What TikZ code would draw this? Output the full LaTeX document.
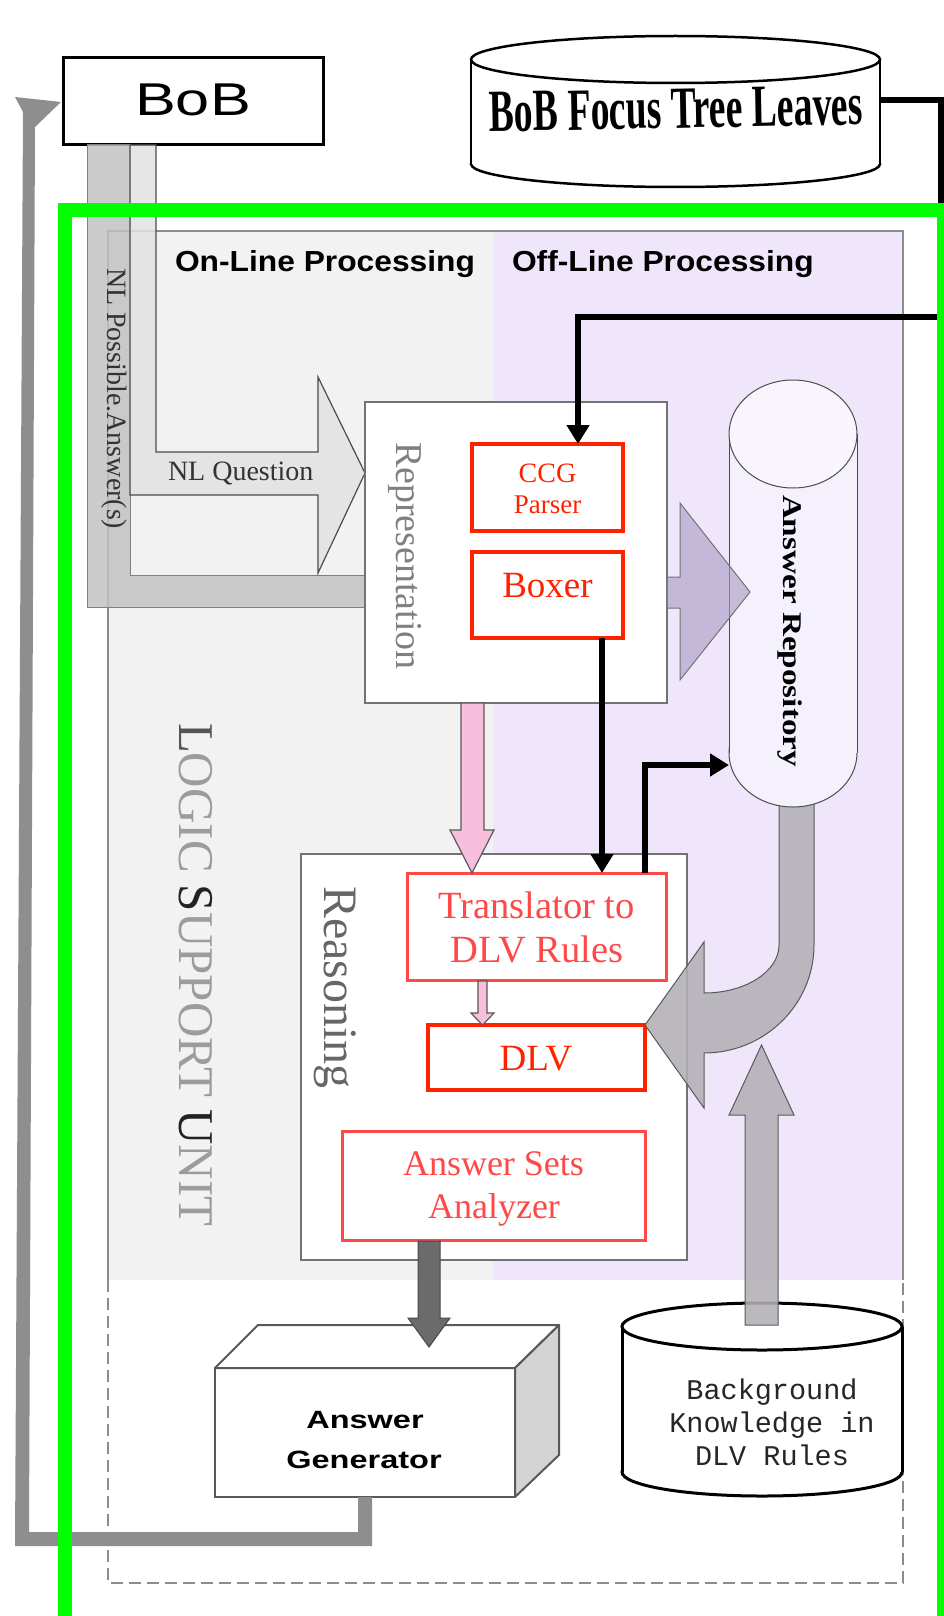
\documentclass[tikz,border=0pt]{standalone}
\usepackage{fontspec}
\setmainfont{Liberation Serif}
\newfontfamily\hvf{Liberation Sans}
\newfontfamily\courf{Liberation Mono}
\usetikzlibrary{arrows.meta}
\definecolor{onlinebg}{HTML}{F2F2F2}
\definecolor{offlinebg}{HTML}{F0E6FC}
\definecolor{lgreen}{HTML}{00FF00}
\definecolor{redA}{HTML}{FF2200}
\definecolor{redB}{HTML}{FF4848}
\definecolor{pinkA}{HTML}{F7BEDD}
\definecolor{arfill}{HTML}{F5F1FC}
\definecolor{bandA}{HTML}{C2C2C2}
\definecolor{bandB}{HTML}{E2E2E2}
\definecolor{grarrow}{HTML}{B2B0B6}
\definecolor{purarrow}{HTML}{A89AC0}
\definecolor{retgrey}{HTML}{8E8E8E}
\definecolor{lsudark}{HTML}{222222}
\definecolor{lsumid}{HTML}{555555}
\definecolor{lsulight}{HTML}{9C9C9C}
\newcommand{\fsz}[1]{\fontsize{#1}{#1}\selectfont}
\tikzset{
  txt/.style={inner sep=0pt, outer sep=0pt},
  redthick/.style={draw=redA, line width=4.5pt, fill=white, inner sep=0pt, outer sep=0pt},
  redthin/.style={draw=redB, line width=3pt, fill=white, inner sep=0pt, outer sep=0pt},
  greybox/.style={draw=black!55, line width=2pt, fill=white, inner sep=0pt, outer sep=0pt},
  blk/.style={line width=5.5pt, -{Triangle[length=19pt,width=22pt]}},
  barrow/.style={draw=black!65, line width=1.2pt},
}
\begin{document}
\begin{tikzpicture}[x=1pt,y=-1pt]
\useasboundingbox (0,0) rectangle (944,1616);
\clip (0,0) rectangle (944,1616);
\fill[white] (0,0) rectangle (944,1616);

% ---------- processing panels ----------
\fill[onlinebg] (108,231) rectangle (493,1280);
\fill[offlinebg] (493,231) rectangle (903,1280);
\draw[black!45, line width=2pt] (108,1280) -- (108,231) -- (903,231) -- (903,1280);
\draw[black!45, line width=2pt, dash pattern=on 12pt off 6pt] (108,1280) -- (108,1583) -- (903,1583) -- (903,1280);

\node[txt, anchor=base west] (onT) at (175,271) {\scalebox{1.095}[1]{\hvf\bfseries\fsz{29}On-Line Processing}};
\node[txt, anchor=base west] (offT) at (512,271) {\scalebox{1.095}[1]{\hvf\bfseries\fsz{29}Off-Line Processing}};

% ---------- BoB ----------
\node[draw=black, line width=3pt, fill=white, inner sep=0pt, outer sep=0pt,
      minimum width=260pt, minimum height=87pt, anchor=north west] (bob) at (63,58) {};
\node[txt, anchor=base] (bobT) at (193,116) {\scalebox{1.33}[1]{\hvf\fsz{46}BoB}};

% ---------- NL arrows ----------
\filldraw[fill=bandA, fill opacity=0.85, draw=black!50, line width=1pt]
  (87,145) -- (87,607) -- (365,607) -- (365,575) -- (130,575) -- (130,145) -- cycle;
\filldraw[fill=bandB, fill opacity=0.85, draw=black!70, line width=1.2pt]
  (130,145) -- (130,495) -- (318,495) -- (318,573) -- (365,473) -- (318,377) -- (318,452) -- (156,452) -- (156,145) -- cycle;
\node[txt, anchor=base west, text=black!80] (nlqT) at (168,480) {\fsz{28}NL Question};
\node[txt, anchor=base west, rotate=-90, text=black!80] (nlpT) at (107,268) {\fsz{28}NL Possible.Answer(s)};

% ---------- Representation ----------
\node[greybox, minimum width=302pt, minimum height=301pt, anchor=north west] (rep) at (365,402) {};
\node[txt, anchor=base west, rotate=-90, text=black!50] (repT) at (396,442) {\fsz{38}Representation};
\node[redthick, minimum width=151pt, minimum height=87pt, anchor=north west] (ccg) at (472,444) {};
\node[txt, anchor=base, text=redA] (ccgT1) at (547.5,482) {\fsz{28}CCG};
\node[txt, anchor=base, text=redA] (ccgT2) at (547.5,513) {\fsz{27}Parser};
\node[redthick, minimum width=151pt, minimum height=86pt, anchor=north west] (boxer) at (472,552) {};
\node[txt, anchor=base, text=redA] (boxT) at (547.5,597) {\fsz{37}Boxer};

% ---------- Logic support unit label ----------
\node[txt, anchor=base west, rotate=-90] (lsuT) at (179,723)
  {\scalebox{0.98}[1]{\fsz{50}\textcolor{lsumid}{L}\textcolor{lsulight}{OGIC} \textcolor{lsudark}{S}\textcolor{lsulight}{UPPORT} \textcolor{lsudark}{U}\textcolor{lsulight}{NIT}}};

% ---------- Reasoning ----------
\node[greybox, minimum width=386pt, minimum height=406pt, anchor=north west] (rea) at (301,854) {};
\node[txt, anchor=base west, rotate=-90, text=black!60] (reaT) at (324,886) {\fsz{48}Reasoning};
\node[redthin, minimum width=259pt, minimum height=107pt, anchor=north west] (tr) at (407,873) {};
\node[txt, anchor=base, text=redB] (trT1) at (536.5,918) {\fsz{38.5}Translator to};
\node[txt, anchor=base, text=redB] (trT2) at (537,962) {\fsz{38.5}DLV Rules};
\node[redthick, minimum width=217pt, minimum height=65pt, anchor=north west] (dlv) at (428,1025) {};
\node[txt, anchor=base, text=redA] (dlvT) at (536,1070) {\fsz{37}DLV};
\node[redthin, minimum width=303pt, minimum height=109pt, anchor=north west] (asa) at (342,1131) {};
\node[txt, anchor=base, text=redB] (asaT1) at (493.5,1175) {\fsz{36}Answer Sets};
\node[txt, anchor=base, text=redB] (asaT2) at (494,1218) {\fsz{36}Analyzer};

% ---------- pink arrows ----------
\filldraw[fill=pinkA, barrow] (461,703) -- (461,830) -- (450,830) -- (472,873) -- (494,830) -- (484,830) -- (484,703) -- cycle;
\filldraw[fill=pinkA, barrow] (478,981) -- (478,1013) -- (471,1013) -- (482.5,1025) -- (494,1013) -- (487,1013) -- (487,981) -- cycle;

% ---------- curved grey arrow (repository -> DLV) ----------
\filldraw[fill=grarrow, fill opacity=0.88, draw=black!65, line width=1pt]
  (779,800) -- (779,945) .. controls (779,971.5) and (745.4,993) .. (704,993)
  -- (704,942) -- (645,1025) -- (704,1108) -- (704,1053)
  .. controls (764.7,1053) and (814,1004.6) .. (814,945) -- (814,800) -- cycle;

% ---------- Answer repository cylinder ----------
\filldraw[fill=arfill, draw=black!70, line width=1pt] (793,753) ellipse [x radius=64, y radius=54];
\fill[arfill] (729,434) rectangle (857,753);
\draw[black!70, line width=1pt] (729,434) -- (729,753) (857,434) -- (857,753);
\filldraw[fill=arfill!70!white, draw=black!70, line width=1pt] (793,434) ellipse [x radius=64, y radius=54];
\coordinate (arL) at (729,765);
\node[txt, anchor=base west, rotate=-90] (arT) at (783,495) {\scalebox{1.23}[1]{\bfseries\fsz{27}Answer Repository}};

% ---------- Representation -> repository ----------
\filldraw[fill=purarrow, fill opacity=0.6, draw=black!55, line width=1pt]
  (667,577) -- (680,577) -- (680,503) -- (750,592) -- (680,680) -- (680,608) -- (667,608) -- cycle;

% ---------- BoB Focus Tree Leaves cylinder ----------
\filldraw[fill=white, draw=black, line width=2.5pt] (675.5,164) ellipse [x radius=204.5, y radius=23];
\fill[white] (471,59.5) rectangle (880,164);
\draw[black, line width=2.5pt] (471,59.5) -- (471,164) (880,59.5) -- (880,164);
\filldraw[fill=white, draw=black, line width=2.5pt] (675.5,59.5) ellipse [x radius=204.5, y radius=23.5];
\coordinate (bftR) at (880,100);
\node[txt, anchor=base, rotate=1.1] (bftT) at (676.5,128) {\scalebox{0.66}[1.05]{\bfseries\fsz{57}BoB Focus Tree Leaves}};

% ---------- Background knowledge cylinder ----------
\filldraw[fill=white, draw=black, line width=3pt] (762,1472) ellipse [x radius=140, y radius=24];
\fill[white] (622,1326.5) rectangle (902,1472);
\draw[black, line width=3pt] (622,1326.5) -- (622,1472) (902,1326.5) -- (902,1472);
\filldraw[fill=white, draw=black, line width=3pt] (762,1326.5) ellipse [x radius=140, y radius=23.5];
\node[txt, anchor=base, text=black!85] (bkT1) at (772,1399) {\courf\fsz{28.5}Background};
\node[txt, anchor=base, text=black!85] (bkT2) at (772,1432) {\courf\fsz{28.5}Knowledge in};
\node[txt, anchor=base, text=black!85] (bkT3) at (772,1465) {\courf\fsz{28.5}DLV Rules};

% ---------- background -> reasoning arrow ----------
\filldraw[fill=grarrow, fill opacity=0.88, draw=black!65, line width=1pt]
  (745,1325) -- (745,1115) -- (729,1115) -- (761.5,1045) -- (794,1115) -- (778,1115) -- (778,1325) -- cycle;

% ---------- Answer generator ----------
\node[draw=black!65, line width=2pt, fill=white, inner sep=0pt, outer sep=0pt,
      minimum width=300pt, minimum height=129pt, anchor=north west] (gen) at (215,1368) {};
\filldraw[fill=white, draw=black!65, line width=2pt, line join=round]
  (gen.north west) -- ++(43,-43) -- ++(301,0) -- (gen.north east) -- cycle;
\filldraw[fill=black!17, draw=black!65, line width=2pt, line join=round]
  (gen.north east) -- ++(44,-43) -- ++(0,130) -- (gen.south east) -- cycle;
\node[txt, anchor=base] (genT1) at (365,1428) {\scalebox{1.3}[1]{\hvf\bfseries\fsz{25}Answer}};
\node[txt, anchor=base] (genT2) at (364,1468) {\scalebox{1.3}[1]{\hvf\bfseries\fsz{25}Generator}};

% ---------- analyzer -> generator ----------
\filldraw[fill=black!58, draw=black!72, line width=1pt]
  (418,1241) -- (418,1318) -- (408,1318) -- (429,1347) -- (450,1318) -- (440,1318) -- (440,1241) -- cycle;

% ---------- return arrow generator -> BoB ----------
\fill[retgrey] ([xshift=-7pt]gen.south) -- (358,1532) -- (29,1532) -- (35,127) -- (61,102)
  -- (15,97) -- (23,112) -- (15,1546) -- (372,1546) -- ([xshift=7pt]gen.south) -- cycle;

% ---------- black connectors ----------
\draw[blk] (bftR) -- (941,100) -- (941,317) -| ([xshift=30.5pt]ccg.north);
\draw[blk] ([xshift=54.5pt]boxer.south) -- ([xshift=54.5pt]boxer.south |- tr.north);
\draw[blk] ([xshift=108.5pt]tr.north) |- (arL);

% ---------- green frame ----------
\draw[lgreen, line width=14pt] (65,1700) -- (65,210) -- (944,210) -- (944,1700);
\end{tikzpicture}
\end{document}
